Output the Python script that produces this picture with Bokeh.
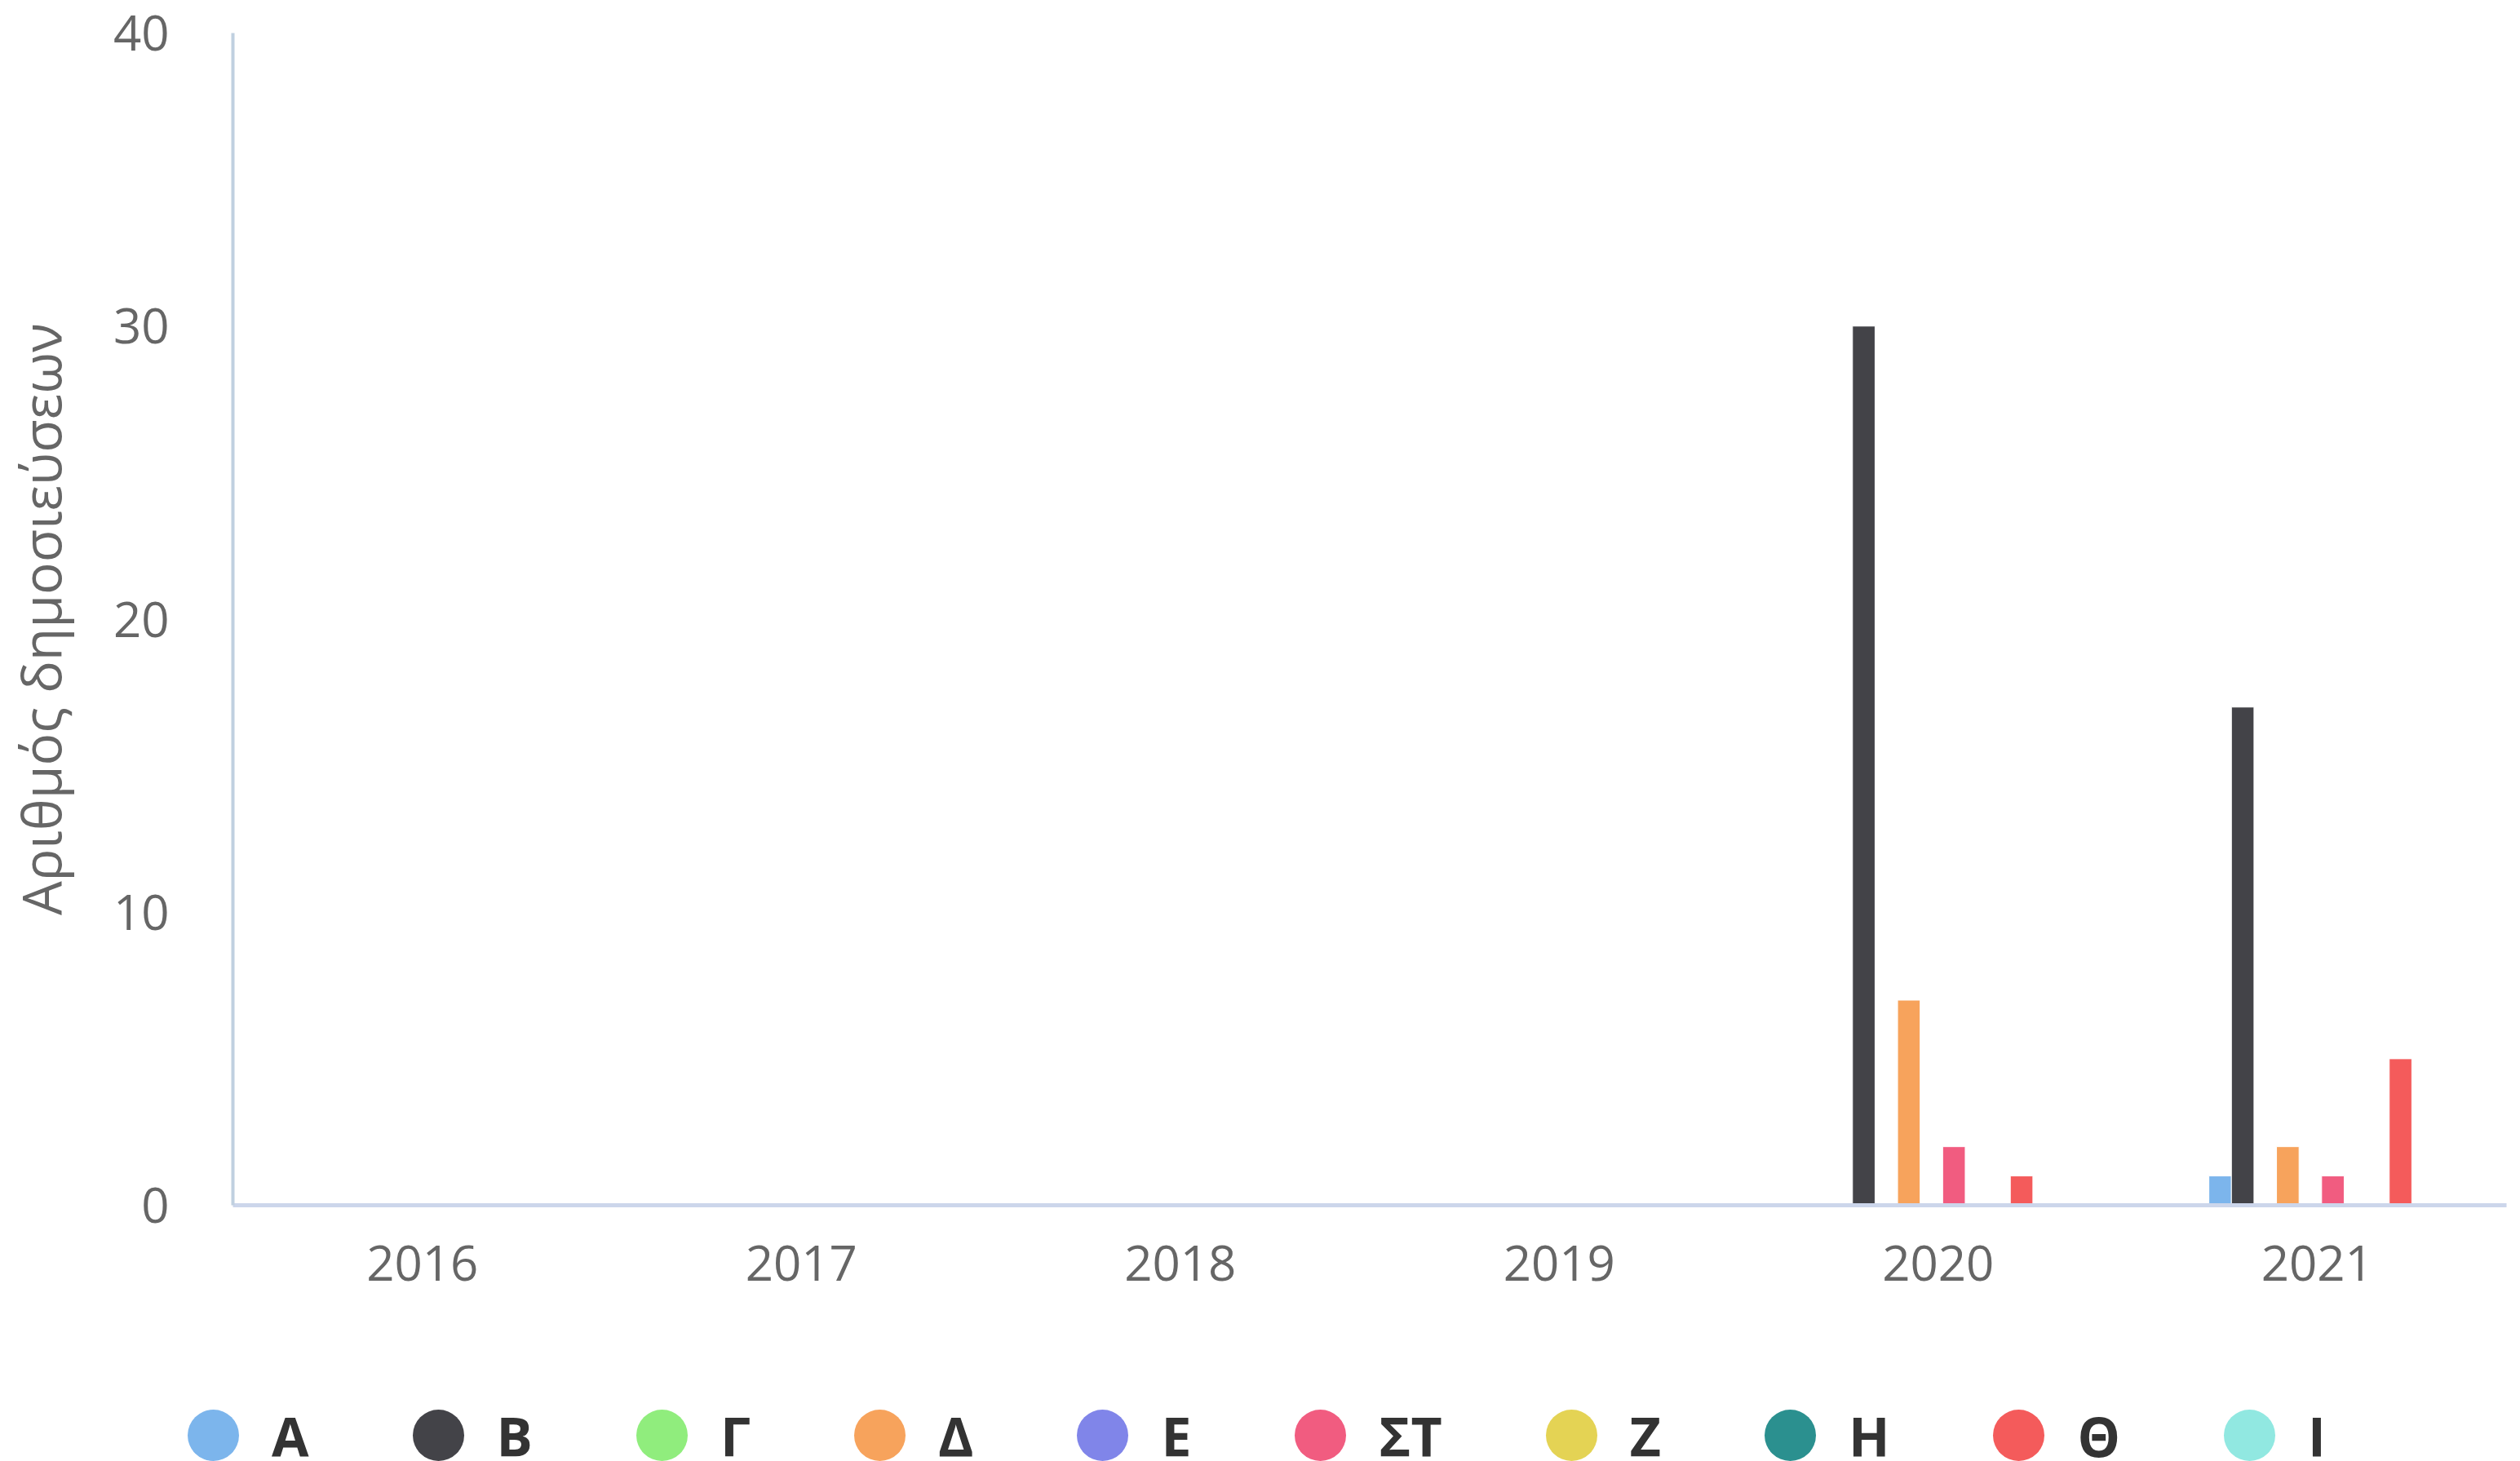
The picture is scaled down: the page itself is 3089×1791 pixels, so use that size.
from bokeh.plotting import figure
from bokeh.layouts import column
from bokeh.models import (FactorRange, Range1d, ColumnDataSource, FixedTicker, Div)
from bokeh.transform import dodge
from bokeh.embed import file_html
from bokeh.resources import INLINE

# ---------------- data ----------------
years = ["2016", "2017", "2018", "2019", "2020", "2021"]
series = ["Α", "Β", "Γ", "Δ", "Ε", "ΣΤ", "Ζ", "Η", "Θ", "Ι"]

vals_a = [0, 0, 0, 0, 0, 1]
vals_b = [0, 0, 0, 0, 30, 17]
vals_g = [0, 0, 0, 0, 0, 0]
vals_d = [0, 0, 0, 0, 7, 2]
vals_e = [0, 0, 0, 0, 0, 0]
vals_st = [0, 0, 0, 0, 2, 1]
vals_z = [0, 0, 0, 0, 0, 0]
vals_h = [0, 0, 0, 0, 0, 0]
vals_th = [0, 0, 0, 0, 1, 5]
vals_i = [0, 0, 0, 0, 0, 0]

y_ticks = [0, 10, 20, 30, 40]
y_title = "Αριθμός δημοσιεύσεων"

colors = ["#7cb5ec", "#434348", "#90ed7d", "#f7a35c", "#8085e9",
          "#f15c80", "#e4d354", "#2b908f", "#f45b5b", "#91e8e1"]

all_vals = [vals_a, vals_b, vals_g, vals_d, vals_e, vals_st, vals_z, vals_h, vals_th, vals_i]
cols = ["s%d" % i for i in range(len(series))]
data = {"year": years}
for c, v in zip(cols, all_vals):
    data[c] = v
src = ColumnDataSource(data)

# ---------------- figure ----------------
FONT = "Open Sans"
W = 3073
H_MAIN = 1604
H_LEG = 187
FRAME_BOTTOM = 1477

p = figure(x_range=FactorRange(*years), y_range=Range1d(0, 40),
           width=W, height=H_MAIN, output_backend="svg", toolbar_location=None,
           min_border_left=285, min_border_right=1, min_border_top=40,
           min_border_bottom=H_MAIN - FRAME_BOTTOM)
p.outline_line_color = None
p.grid.visible = False

step = 0.0595
bar_w = 0.0595
shift = 0.012
for i, c in enumerate(cols):
    off = (i - 4.5) * step + shift
    p.vbar(x=dodge("year", off, range=p.x_range), top=c, width=bar_w, source=src,
           fill_color=colors[i], line_color="white", line_width=1)

# y axis
ya = p.yaxis[0]
ya.ticker = FixedTicker(ticks=y_ticks)
ya.axis_line_color = "#c0d0e0"
ya.axis_line_width = 4
ya.major_tick_line_color = None
ya.minor_tick_line_color = None
ya.major_label_standoff = 72
ya.major_label_text_font = FONT
ya.major_label_text_font_size = "60px"
ya.major_label_text_color = "#666666"
ya.axis_label = y_title
ya.axis_label_text_font = FONT
ya.axis_label_text_font_size = "66px"
ya.axis_label_text_font_style = "normal"
ya.axis_label_text_color = "#666666"
ya.axis_label_standoff = 42

# x axis
xa = p.xaxis[0]
xa.axis_line_color = "#ccd6eb"
xa.axis_line_width = 5
xa.major_tick_line_color = None
xa.minor_tick_line_color = None
xa.major_label_standoff = 43
xa.major_label_text_font = FONT
xa.major_label_text_font_size = "60px"
xa.major_label_text_color = "#666666"

# ---------------- legend strip (HTML) ----------------
item_html = []
for name, col in zip(series, colors):
    item_html.append(
        '<span style="display:inline-flex;align-items:center;margin-right:127px;">'
        '<span style="display:inline-block;width:63px;height:63px;border-radius:50%%;'
        'background:%s;margin-right:40px;"></span>'
        '<span style="line-height:50px;">%s</span></span>' % (col, name))

legend_html = (
    '<div style="display:flex;align-items:center;height:63px;margin-top:124px;'
    'padding-left:230px;font-family:\'Open Sans\';font-weight:bold;font-size:66px;'
    'color:#333333;white-space:nowrap;">' + "".join(item_html) + '</div>')

legend_div = Div(text=legend_html, width=W, height=H_LEG, margin=0)

layout = column(p, legend_div, spacing=0)
open("out.html", "w").write(file_html(layout, INLINE))
